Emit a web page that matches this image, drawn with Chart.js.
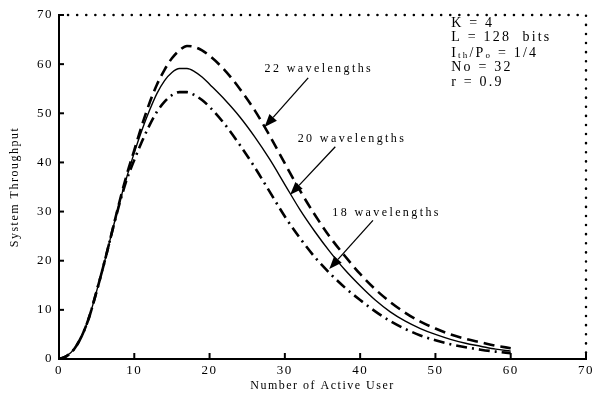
<!DOCTYPE html>
<html>
<head>
<meta charset="utf-8">
<script src="https://cdn.jsdelivr.net/npm/chart.js@4.4.0/dist/chart.umd.min.js"></script>
<style>
html, body { margin: 0; padding: 0; background: #fff; }
#wrap { width: 608px; height: 401px; }
</style>
</head>
<body>
<div id="wrap"><canvas id="chart" width="608" height="401"></canvas></div>
<script>
// number of active users
const users = [0,1,2,3,4,5,6,7,8,9,10,11,12,13,14,15,16,17,18,19,20,
  22,24,26,28,30,32,34,36,38,40,42,44,46,48,50,52,54,56,58,60];

// system throughput, 22 / 20 / 18 wavelengths
const thr22 = [0,0.6,2,4.6,8.5,13.8,19.5,25.6,31.8,37.5,42.5,47.5,52,55.8,58.8,61.2,62.8,63.7,63.5,62.8,61.7,
  58.8,55,50.6,45.4,39.8,34.3,29.3,24.8,20.9,17.3,14.2,11.6,9.4,7.6,6.2,5.0,4.1,3.4,2.7,2.2];
const thr20 = [0,0.6,2,4.6,8.5,13.8,19.5,25.6,31.6,37,42,46.5,50.5,54,56.6,58.3,59.1,59.1,58.5,57.4,55.9,
  52.8,49.3,45.2,40.6,35.5,30.4,25.9,21.8,18.1,14.9,12.0,9.6,7.7,6.2,5.0,4.0,3.2,2.6,2.0,1.6];
const thr18 = [0,0.6,2,4.6,8.5,13.8,19.5,25.6,31.4,36.5,40.5,44.2,47.5,50.3,52.3,53.7,54.3,54.3,53.7,52.7,51.3,
  47.8,43.6,39,34,29,24.6,20.7,17.4,14.5,12.0,9.7,7.7,6.1,4.8,3.8,3.0,2.4,1.9,1.5,1.2];

const seriesLabels = ["22 wavelengths", "20 wavelengths", "18 wavelengths"];

// annotation text and arrows, in data units
const notes = [
  {text: "22 wavelengths", x: 27.3, y: 59.0, from: [33.1, 57.2], to: [27.3, 47.2]},
  {text: "20 wavelengths", x: 31.7, y: 44.7, from: [36.7, 43.2], to: [30.7, 33.4]},
  {text: "18 wavelengths", x: 36.3, y: 29.8, from: [41.7, 28.2], to: [35.9, 18.3]}
];
const params = [
  [["K = 4", 0]],
  [["L = 128  bits", 0]],
  [["I", 0], ["th", 1], ["/P", 0], ["o", 1], [" = 1/4", 0]],
  [["No = 32", 0]],
  [["r = 0.9", 0]]
];
const paramX = 52.1, paramY = [68.4, 65.4, 62.3, 59.3, 56.4];

const serif = "'Liberation Serif', 'Times New Roman', serif";

function pts(ys) {
  return users.map((u, i) => ({x: u, y: ys[i]}));
}

const decor = {
  id: "decor",
  beforeDraw(chart) {
    chart.ctx.letterSpacing = "1.5px";
  },
  afterDraw(chart) {
    const ctx = chart.ctx;
    const a = chart.chartArea;
    const xs = chart.scales.x, ys = chart.scales.y;
    ctx.save();
    ctx.letterSpacing = "0px";
    // dotted top/right frame
    ctx.strokeStyle = "#000";
    ctx.lineWidth = 2.5;
    ctx.lineCap = "round";
    ctx.setLineDash([0.1, 9]);
    ctx.beginPath();
    ctx.moveTo(a.left + 9, a.top);
    ctx.lineTo(a.right, a.top);
    ctx.lineTo(a.right, a.bottom - 4);
    ctx.stroke();
    ctx.setLineDash([]);
    ctx.lineCap = "butt";
    // inward ticks
    ctx.lineWidth = 2;
    xs.ticks.forEach(t => {
      const p = xs.getPixelForValue(t.value);
      ctx.beginPath(); ctx.moveTo(p, a.bottom); ctx.lineTo(p, a.bottom - 6); ctx.stroke();
    });
    ys.ticks.forEach(t => {
      const p = ys.getPixelForValue(t.value);
      ctx.beginPath(); ctx.moveTo(a.left, p); ctx.lineTo(a.left + 5, p); ctx.stroke();
    });
    // arrows + labels
    ctx.fillStyle = "#000";
    ctx.font = "12px " + serif;
    ctx.textBaseline = "middle";
    ctx.letterSpacing = "2.4px";
    notes.forEach(n => {
      ctx.fillText(n.text, xs.getPixelForValue(n.x), ys.getPixelForValue(n.y));
      const x0 = xs.getPixelForValue(n.from[0]), y0 = ys.getPixelForValue(n.from[1]);
      const x1 = xs.getPixelForValue(n.to[0]), y1 = ys.getPixelForValue(n.to[1]);
      const ang = Math.atan2(y1 - y0, x1 - x0);
      const L = 13, W = 5;
      ctx.lineWidth = 1.3;
      ctx.beginPath();
      ctx.moveTo(x0, y0);
      ctx.lineTo(x1 - L * Math.cos(ang), y1 - L * Math.sin(ang));
      ctx.stroke();
      ctx.beginPath();
      ctx.moveTo(x1, y1);
      ctx.lineTo(x1 - L * Math.cos(ang) + W * Math.sin(ang), y1 - L * Math.sin(ang) - W * Math.cos(ang));
      ctx.lineTo(x1 - L * Math.cos(ang) - W * Math.sin(ang), y1 - L * Math.sin(ang) + W * Math.cos(ang));
      ctx.closePath();
      ctx.fill();
    });
    // parameter box
    ctx.letterSpacing = "2.2px";
    params.forEach((line, i) => {
      let px = xs.getPixelForValue(paramX);
      const py = ys.getPixelForValue(paramY[i]);
      line.forEach(([s, sub]) => {
        ctx.font = (sub ? "9px " : "14px ") + serif;
        ctx.fillText(s, px, py + (sub ? 3 : 0));
        px += ctx.measureText(s).width;
      });
    });
    ctx.restore();
  }
};

new Chart(document.getElementById("chart"), {
  type: "line",
  data: {
    datasets: [
      {label: seriesLabels[0], data: pts(thr22), borderColor: "#000", borderWidth: 2.6, borderDash: [11, 6]},
      {label: seriesLabels[1], data: pts(thr20), borderColor: "#000", borderWidth: 1.4},
      {label: seriesLabels[2], data: pts(thr18), borderColor: "#000", borderWidth: 2.6, borderDash: [11, 5, 2, 5]}
    ]
  },
  options: {
    responsive: false,
    animation: false,
    parsing: false,
    elements: {
      point: {radius: 0},
      line: {fill: false, cubicInterpolationMode: "monotone"}
    },
    layout: {padding: {left: 0, right: 22, top: 15, bottom: 0}},
    plugins: {legend: {display: false}, tooltip: {enabled: false}},
    scales: {
      x: {
        type: "linear", min: 0, max: 70,
        afterFit: s => { s.height = 42; },
        ticks: {stepSize: 10, color: "#000", padding: 4, maxRotation: 0, font: {family: serif, size: 13}},
        grid: {display: false, drawTicks: false},
        border: {display: true, color: "#000", width: 2},
        title: {display: true, text: "Number of Active User", color: "#000", padding: {top: 0, bottom: 8}, font: {family: serif, size: 12}}
      },
      y: {
        type: "linear", min: 0, max: 70,
        afterFit: s => { s.width = 59; },
        ticks: {stepSize: 10, color: "#000", padding: 6, font: {family: serif, size: 13}},
        grid: {display: false, drawTicks: false},
        border: {display: true, color: "#000", width: 2},
        title: {display: true, text: "System Throughput", color: "#000", padding: {top: 8, bottom: 0}, font: {family: serif, size: 12}}
      }
    }
  },
  plugins: [decor]
});
</script>
</body>
</html>
